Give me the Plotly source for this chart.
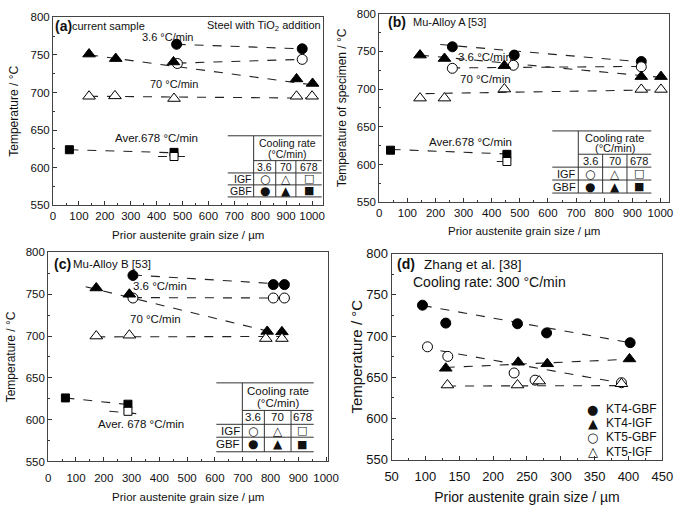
import plotly.graph_objects as go

W, H = 685, 508
FONT = "Liberation Sans, Arial, sans-serif"
GLYPH = "DejaVu Sans"

# ================= DATA =================
# ---- Panel (a): current sample ----
a_gbf36_x = [477, 962];                     a_gbf36_y = [764, 758]
a_igf36_x = [480, 962];                     a_igf36_y = [738.5, 744]
a_gbf70_x = [139, 242, 465, 940, 1002];     a_gbf70_y = [751, 745, 740.5, 718, 712]
a_igf70_x = [139, 239, 467, 940, 1000];     a_igf70_y = [695, 695.5, 692, 695, 695]
a_gbf678_x = [63, 467];                     a_gbf678_y = [624, 620.5]
a_igf678_x = [467];                         a_igf678_y = [615]
# dashed guide lines (end points)
a_tr_gbf36_x = [477, 962];   a_tr_gbf36_y = [764, 758]
a_tr_igf36_x = [480, 962];   a_tr_igf36_y = [739, 744]
a_tr_gbf70_x = [139, 1005];  a_tr_gbf70_y = [750, 710]
a_tr_igf70_x = [139, 1000];  a_tr_igf70_y = [695, 692.5]
a_tr_gbf678_x = [63, 467];   a_tr_gbf678_y = [624, 620]
a_tr_igf678_x = [405, 511];  a_tr_igf678_y = [615, 615]

# ---- Panel (b): Mu-Alloy A ----
b_gbf36_x = [260, 480, 932];                b_gbf36_y = [756, 745, 736.5]
b_igf36_x = [260, 477, 932];                b_igf36_y = [727.5, 731.5, 729.5]
b_gbf70_x = [145, 232, 445, 932, 1002];     b_gbf70_y = [745, 740.5, 731, 716.5, 716.5]
b_igf70_x = [145, 232, 445, 932, 1002];     b_igf70_y = [688, 688, 700, 699.5, 699.5]
b_gbf678_x = [40, 454];                     b_gbf678_y = [619, 613.5]
b_igf678_x = [454];                         b_igf678_y = [604]
b_tr_gbf36_x = [217, 932];   b_tr_gbf36_y = [759, 736]
b_tr_igf36_x = [256, 932];   b_tr_igf36_y = [728, 730]
b_tr_gbf70_x = [145, 1002];  b_tr_gbf70_y = [745, 715.5]
b_tr_igf70_x = [165, 1002];  b_tr_igf70_y = [694, 699]
b_tr_gbf678_x = [44, 454];   b_tr_gbf678_y = [620, 614]
b_tr_igf678_x = [418, 454];  b_tr_igf678_y = [604, 604]

# ---- Panel (c): Mu-Alloy B ----
c_gbf36_x = [305, 810, 850];                c_gbf36_y = [772.5, 761.5, 761.5]
c_igf36_x = [305, 810, 850];                c_igf36_y = [745.5, 745.5, 745.5]
c_gbf70_x = [173, 292, 788, 841];           c_gbf70_y = [757.5, 750, 705.5, 705]
c_igf70_x = [173, 292, 783, 841];           c_igf70_y = [700, 701, 697, 697]
c_gbf678_x = [62, 287];                     c_gbf678_y = [626, 618.5]
c_igf678_x = [287];                         c_igf678_y = [610]
c_tr_gbf36_x = [305, 850];   c_tr_gbf36_y = [773, 762]
c_tr_igf36_x = [305, 850];   c_tr_igf36_y = [746, 745.5]
c_tr_gbf70_x = [135, 850];   c_tr_gbf70_y = [759, 701]
c_tr_igf70_x = [173, 856];   c_tr_igf70_y = [699, 699.5]
c_tr_gbf678_x = [62, 290];   c_tr_gbf678_y = [626, 618]
c_tr_igf678_x = [220, 325];  c_tr_igf678_y = [610, 607]

# ---- Panel (d): Zhang et al. ----
d_kt4gbf_x = [95.6, 130, 236, 279, 402.5];  d_kt4gbf_y = [737.4, 715.7, 714.9, 703.8, 692]
d_kt4igf_x = [130, 237, 280, 401.5];        d_kt4igf_y = [661, 668.3, 666.4, 672.3]
d_kt5gbf_x = [103, 133, 231, 262, 389.6];   d_kt5gbf_y = [687, 675.4, 655.3, 646.6, 643.5]
d_kt5igf_x = [132.5, 236, 268, 389.6];      d_kt5igf_y = [640.7, 640.7, 645.5, 642.3]
d_tr_kt4gbf_x = [96, 402];   d_tr_kt4gbf_y = [737, 692]
d_tr_kt4igf_x = [130, 402];  d_tr_kt4igf_y = [662, 672]
d_tr_kt5gbf_x = [96, 390];   d_tr_kt5gbf_y = [686, 643]
d_tr_kt5igf_x = [132, 390];  d_tr_kt5igf_y = [639.5, 640]
d_legend_labels = ["KT4-GBF", "KT4-IGF", "KT5-GBF", "KT5-IGF"]

table_cols = ["3.6", "70", "678"]
table_rows = ["IGF", "GBF"]

# ================= FIGURE =================
fig = go.Figure()

STY = {
    "gbf36": dict(symbol="circle", color="black", size=10),
    "igf36": dict(symbol="circle", color="white", size=10),
    "gbf70": dict(symbol="triangle-up", color="black", size=11),
    "igf70": dict(symbol="triangle-up", color="white", size=11),
    "gbf678": dict(symbol="square", color="black", size=8),
    "igf678": dict(symbol="square", color="white", size=8),
}


def add_line(xa, ya, xs, ys):
    fig.add_trace(go.Scatter(x=xs, y=ys, mode="lines", xaxis=xa, yaxis=ya,
                             line=dict(color="#222", width=1.1, dash="dash"),
                             showlegend=False, hoverinfo="skip"))


def add_pts(xa, ya, xs, ys, key, name=""):
    s = STY[key]
    fig.add_trace(go.Scatter(x=xs, y=ys, mode="markers", xaxis=xa, yaxis=ya, name=name,
                             marker=dict(symbol=s["symbol"], color=s["color"], size=s["size"],
                                         line=dict(color="black", width=1)),
                             showlegend=False))


panels = {
    ("x", "y"): [
        (a_tr_gbf36_x, a_tr_gbf36_y), (a_tr_igf36_x, a_tr_igf36_y), (a_tr_gbf70_x, a_tr_gbf70_y),
        (a_tr_igf70_x, a_tr_igf70_y), (a_tr_gbf678_x, a_tr_gbf678_y), (a_tr_igf678_x, a_tr_igf678_y)],
    ("x2", "y2"): [
        (b_tr_gbf36_x, b_tr_gbf36_y), (b_tr_igf36_x, b_tr_igf36_y), (b_tr_gbf70_x, b_tr_gbf70_y),
        (b_tr_igf70_x, b_tr_igf70_y), (b_tr_gbf678_x, b_tr_gbf678_y), (b_tr_igf678_x, b_tr_igf678_y)],
    ("x3", "y3"): [
        (c_tr_gbf36_x, c_tr_gbf36_y), (c_tr_igf36_x, c_tr_igf36_y), (c_tr_gbf70_x, c_tr_gbf70_y),
        (c_tr_igf70_x, c_tr_igf70_y), (c_tr_gbf678_x, c_tr_gbf678_y), (c_tr_igf678_x, c_tr_igf678_y)],
    ("x4", "y4"): [
        (d_tr_kt4gbf_x, d_tr_kt4gbf_y), (d_tr_kt4igf_x, d_tr_kt4igf_y),
        (d_tr_kt5gbf_x, d_tr_kt5gbf_y), (d_tr_kt5igf_x, d_tr_kt5igf_y)],
}
for (xa, ya), lines in panels.items():
    for xs, ys in lines:
        add_line(xa, ya, xs, ys)

pts = {
    ("x", "y"): [(a_gbf36_x, a_gbf36_y, "gbf36"), (a_igf36_x, a_igf36_y, "igf36"),
                 (a_gbf70_x, a_gbf70_y, "gbf70"), (a_igf70_x, a_igf70_y, "igf70"),
                 (a_gbf678_x, a_gbf678_y, "gbf678"), (a_igf678_x, a_igf678_y, "igf678")],
    ("x2", "y2"): [(b_gbf36_x, b_gbf36_y, "gbf36"), (b_igf36_x, b_igf36_y, "igf36"),
                   (b_gbf70_x, b_gbf70_y, "gbf70"), (b_igf70_x, b_igf70_y, "igf70"),
                   (b_gbf678_x, b_gbf678_y, "gbf678"), (b_igf678_x, b_igf678_y, "igf678")],
    ("x3", "y3"): [(c_gbf36_x, c_gbf36_y, "gbf36"), (c_igf36_x, c_igf36_y, "igf36"),
                   (c_gbf70_x, c_gbf70_y, "gbf70"), (c_igf70_x, c_igf70_y, "igf70"),
                   (c_gbf678_x, c_gbf678_y, "gbf678"), (c_igf678_x, c_igf678_y, "igf678")],
    ("x4", "y4"): [(d_kt4gbf_x, d_kt4gbf_y, "gbf36"), (d_kt4igf_x, d_kt4igf_y, "gbf70"),
                   (d_kt5gbf_x, d_kt5gbf_y, "igf36"), (d_kt5igf_x, d_kt5igf_y, "igf70")],
}
for (xa, ya), lst in pts.items():
    for xs, ys, key in lst:
        add_pts(xa, ya, xs, ys, key)


def px(x):
    return x / W


def py(y):
    return 1 - y / H


def axis(dom, rng, dtick, mdtick, title, tsize, tisize, anchor, standoff, tick0=0, lstand=0):
    return dict(domain=dom, range=rng, tick0=tick0, dtick=dtick, ticks="inside", ticklen=4,
                tickwidth=1, tickcolor="#333", showline=True, linecolor="#444", linewidth=1,
                mirror=True, showgrid=False, zeroline=False, anchor=anchor,
                ticklabelstandoff=lstand,
                minor=dict(dtick=mdtick, tick0=tick0, ticks="inside", ticklen=2, tickcolor="#333"),
                tickfont=dict(family=FONT, size=tsize, color="#111"),
                title=dict(text=title, font=dict(family=FONT, size=tisize, color="#111"),
                           standoff=standoff))


XT = "Prior austenite grain size / µm"
layout = dict(
    width=W, height=H, margin=dict(l=0, r=0, t=0, b=0),
    paper_bgcolor="white", plot_bgcolor="white", showlegend=False,
    xaxis=axis([px(47.3), px(325)], [0, 1044], 100, 50, XT, 11.5, 11.5, "y", 9),
    yaxis=axis([py(204.5), py(10.5)], [550, 800], 50, 25, "Temperature / °C", 11.5, 12, "x", 9),
    xaxis2=axis([px(382.3), px(680)], [0, 1031], 100, 50, XT, 11.5, 11.5, "y2", 8),
    yaxis2=axis([py(201.2), py(6.8)], [550, 800], 50, 25, "Temperature of specimen / °C", 11.5, 12, "x2", 7),
    xaxis3=axis([px(42.3), px(330)], [0, 1008], 100, 50, XT, 11.5, 11.5, "y3", 9, lstand=6),
    yaxis3=axis([py(468.3), py(252.9)], [550, 800], 50, 25, "Temperature / °C", 11.5, 12, "x3", 7),
    xaxis4=axis([px(395), px(673)], [50, 450], 50, 25, XT, 13, 14, "y4", 9, tick0=50, lstand=4),
    yaxis4=axis([py(466.7), py(254)], [550, 800], 50, 25, "Temperature / °C", 13, 15, "x4", 0),
)

ann = []
shapes = []


def txt(x, y, s, size=11, anchor="center", family=FONT):
    ann.append(dict(x=px(x), y=py(y), xref="paper", yref="paper", text=s, showarrow=False,
                    xanchor=anchor, yanchor="middle", borderpad=0,
                    font=dict(size=size, family=family, color="#111")))


def seg(x0, y0, x1, y1):
    shapes.append(dict(type="line", xref="paper", yref="paper", x0=px(x0), y0=py(y0),
                       x1=px(x1), y1=py(y1), line=dict(color="#333", width=1)))


def table(xs, ys, fs):
    xl, xc1, xc2, xc3, xr = xs
    y0, y1, y2, y3, y4 = ys
    seg(xl, y0, xr, y0)
    seg(xc1, y1, xr, y1)
    for yy in (y2, y3, y4):
        seg(xl, yy, xr, yy)
    seg(xc1, y0, xc1, y4)
    seg(xc2, y1, xc2, y4)
    seg(xc3, y1, xc3, y4)
    cx = (xc1 + xr) / 2
    txt(cx, y0 + (y1 - y0) * 0.31, "Cooling rate", fs)
    txt(cx, y0 + (y1 - y0) * 0.74, "(°C/min)", fs)
    centers = [(xc1 + xc2) / 2, (xc2 + xc3) / 2, (xc3 + xr) / 2]
    for c, lab in zip(centers, table_cols):
        txt(c, (y1 + y2) / 2, lab, fs)
    ry = [(y2 + y3) / 2, (y3 + y4) / 2]
    for r, lab in zip(ry, table_rows):
        txt(xc1 - 1, r, lab, fs, anchor="right")
    glyphs = [["○", "△", "□"], ["●", "▲", "■"]]
    gsz = [12, 12, 11]
    for i, r in enumerate(ry):
        for j, c in enumerate(centers):
            txt(c, r, glyphs[i][j], gsz[j], family=GLYPH)


# Panel (a) texts
txt(48.5, 20, "<b>(a)</b>", 14, "left")
txt(66, 20, "current sample", 11, "left")
txt(323.5, 20, "Steel with TiO<sub>2</sub> addition", 11, "right")
txt(165, 31, "3.6 °C/min", 11)
txt(171.7, 79, "70 °C/min", 11)
txt(153.8, 135, "Aver.678 °C/min", 11.5)
table([226.7, 253.3, 276, 296.7, 323.3], [132.7, 158.3, 171, 183.3, 195.7], 10.5)

# Panel (b) texts
txt(390, 15, "<b>(b)</b>", 14, "left")
txt(415.7, 15, "Mu-Alloy A [53]", 11, "left")
txt(491, 52, "3.6 °C/min", 11.5)
txt(491, 74, "70 °C/min", 11.5)
txt(476, 139, "Aver.678 °C/min", 11.5)
table([560, 586.7, 611.7, 636.7, 661.7], [127.7, 151.7, 165, 178.3, 191.7], 11)

# Panel (c) texts
txt(47.5, 265, "<b>(c)</b>", 14, "left")
txt(66.7, 265, "Mu-Alloy B [53]", 11.5, "left")
txt(157, 287, "3.6 °C/min", 11.5)
txt(153, 322, "70 °C/min", 11.5)
txt(138, 430, "Aver. 678 °C/min", 11.5)
table([215, 241.7, 264.3, 291.7, 315], [387.3, 415.7, 430, 443.3, 458.3], 11.5)

# Panel (d) texts
txt(400, 265, "<b>(d)</b>", 14, "left")
txt(427, 265, "Zhang et al. [38]", 13.5, "left")
txt(416, 283.3, "Cooling rate: 300 °C/min", 14, "left")
leg_y = [414.3, 429, 443.3, 458.3]
leg_g = ["●", "▲", "○", "△"]
for yy, g, lab in zip(leg_y, leg_g, d_legend_labels):
    txt(601.7, yy, g, 13, family=GLYPH)
    txt(614, yy, lab, 12, "left")

layout["annotations"] = ann
layout["shapes"] = shapes
fig.update_layout(**layout)
fig.write_html("out.html", config={"displayModeBar": False},
               post_script="document.body.style.margin='0';document.body.style.overflow='hidden';")
